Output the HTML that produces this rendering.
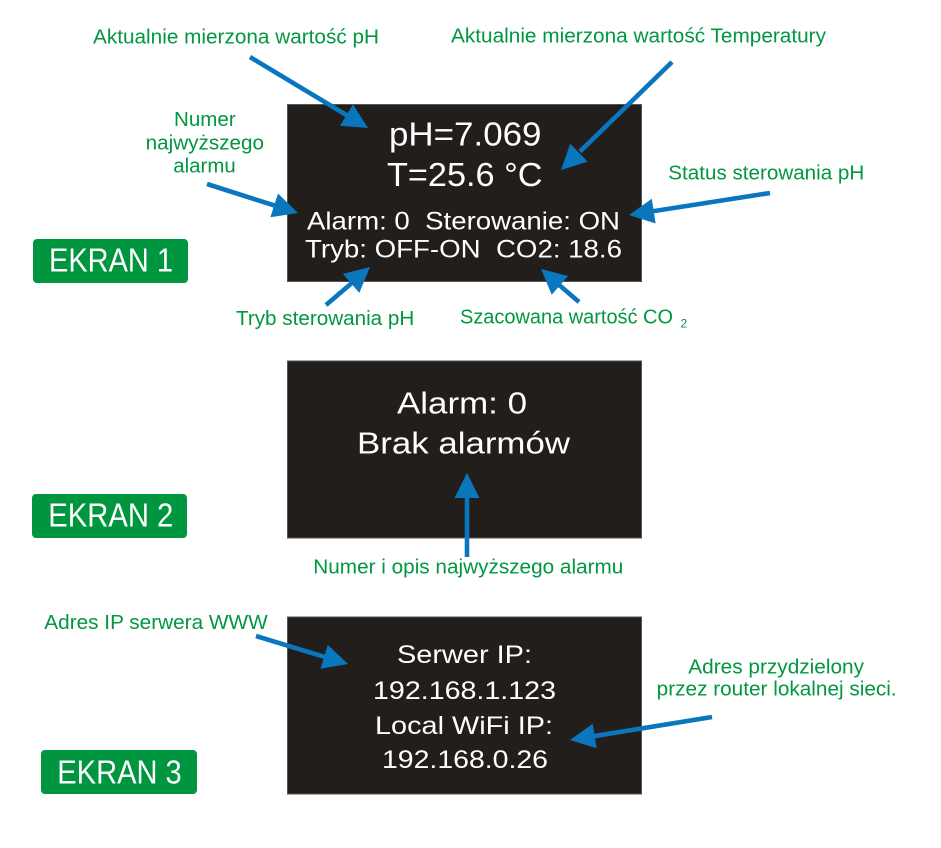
<!DOCTYPE html>
<html>
<head>
<meta charset="utf-8">
<style>
  html, body { margin: 0; padding: 0; background: #ffffff; }
  svg { display: block; }
  .g { font-family: "Liberation Sans", Arial, sans-serif; fill: #00973f; font-size: 20px; }
  .w { font-family: "Liberation Sans", Arial, sans-serif; fill: #ffffff; }
  .b { font-family: "Liberation Sans", Arial, sans-serif; fill: #ffffff; font-size: 33px; }
</style>
</head>
<body>
<svg width="941" height="848" viewBox="0 0 941 848" xmlns="http://www.w3.org/2000/svg">
  <rect x="0" y="0" width="941" height="848" fill="#ffffff"/>

  <!-- Screens -->
  <rect x="287.5" y="104.5" width="354" height="177" fill="#221e1b" stroke="#555" stroke-width="1"/>
  <rect x="287.5" y="361" width="354" height="177" fill="#221e1b" stroke="#555" stroke-width="1"/>
  <rect x="287.5" y="617" width="354" height="177" fill="#221e1b" stroke="#555" stroke-width="1"/>

  <!-- Badges -->
  <rect x="33" y="239" width="155" height="44" rx="4" fill="#00963f"/>
  <text class="b" x="49" y="271.7" textLength="124" lengthAdjust="spacingAndGlyphs">EKRAN 1</text>
  <rect x="32" y="494" width="155" height="44" rx="4" fill="#00963f"/>
  <text class="b" x="48.3" y="526.7" textLength="125" lengthAdjust="spacingAndGlyphs">EKRAN 2</text>
  <rect x="41" y="750" width="156" height="44" rx="4" fill="#00963f"/>
  <text class="b" x="57.3" y="783.3" textLength="124.4" lengthAdjust="spacingAndGlyphs">EKRAN 3</text>

  <!-- Screen 1 text -->
  <text class="w" font-size="33" x="389" y="145.5" textLength="152.5" lengthAdjust="spacingAndGlyphs">pH=7.069</text>
  <text class="w" font-size="33" x="387" y="185.8" textLength="155.5" lengthAdjust="spacingAndGlyphs">T=25.6 °C</text>
  <text class="w" font-size="25" x="307" y="229.5" textLength="313" lengthAdjust="spacingAndGlyphs" xml:space="preserve">Alarm: 0  Sterowanie: ON</text>
  <text class="w" font-size="25" x="305" y="257.6" textLength="317" lengthAdjust="spacingAndGlyphs" xml:space="preserve">Tryb: OFF-ON  CO2: 18.6</text>

  <!-- Screen 2 text -->
  <text class="w" font-size="31" x="397" y="413.3" textLength="130" lengthAdjust="spacingAndGlyphs">Alarm: 0</text>
  <text class="w" font-size="31" x="357" y="453.3" textLength="213" lengthAdjust="spacingAndGlyphs">Brak alarmów</text>

  <!-- Screen 3 text -->
  <text class="w" font-size="25" x="397" y="663" textLength="135" lengthAdjust="spacingAndGlyphs">Serwer IP:</text>
  <text class="w" font-size="25" x="373" y="699" textLength="183" lengthAdjust="spacingAndGlyphs">192.168.1.123</text>
  <text class="w" font-size="25" x="375" y="734" textLength="178" lengthAdjust="spacingAndGlyphs">Local WiFi IP:</text>
  <text class="w" font-size="25" x="382" y="768" textLength="166" lengthAdjust="spacingAndGlyphs">192.168.0.26</text>

  <!-- Green labels -->
  <text class="g" x="93" y="43.3" textLength="286" lengthAdjust="spacingAndGlyphs">Aktualnie mierzona wartość pH</text>
  <text class="g" x="451" y="42.3" textLength="375" lengthAdjust="spacingAndGlyphs">Aktualnie mierzona wartość Temperatury</text>
  <text class="g" x="174" y="126" textLength="61.7" lengthAdjust="spacingAndGlyphs">Numer</text>
  <text class="g" x="145.7" y="149.3" textLength="118.3" lengthAdjust="spacingAndGlyphs">najwyższego</text>
  <text class="g" x="173.3" y="172.5" textLength="62.4" lengthAdjust="spacingAndGlyphs">alarmu</text>
  <text class="g" x="668.3" y="179.3" textLength="196" lengthAdjust="spacingAndGlyphs">Status sterowania pH</text>
  <text class="g" x="236" y="325" textLength="178.3" lengthAdjust="spacingAndGlyphs">Tryb sterowania pH</text>
  <text class="g" x="460" y="323.5" textLength="213" lengthAdjust="spacingAndGlyphs">Szacowana wartość CO</text>
  <text x="680.5" y="327.5" style="font-family:'Liberation Sans',Arial,sans-serif;font-size:12px;fill:#00973f;">2</text>
  <text class="g" x="313.3" y="573.3" textLength="310" lengthAdjust="spacingAndGlyphs">Numer i opis najwyższego alarmu</text>
  <text class="g" x="44.3" y="629" textLength="223.4" lengthAdjust="spacingAndGlyphs">Adres IP serwera WWW</text>
  <text class="g" x="688.3" y="673.3" textLength="175.7" lengthAdjust="spacingAndGlyphs">Adres przydzielony</text>
  <text class="g" x="656.7" y="695.5" textLength="240" lengthAdjust="spacingAndGlyphs">przez router lokalnej sieci.</text>

  <!-- Arrows -->
  <g stroke="#0a76bd" stroke-width="4.6" fill="none" stroke-linecap="butt">
    <line x1="250" y1="57" x2="348" y2="116"/>
    <line x1="672" y1="62" x2="580" y2="151.5"/>
    <line x1="207" y1="184" x2="276" y2="206"/>
    <line x1="326" y1="305" x2="353" y2="282"/>
    <line x1="579" y1="302" x2="558" y2="284"/>
    <line x1="770" y1="193" x2="652" y2="211.4"/>
    <line x1="467" y1="557" x2="467" y2="496"/>
    <line x1="256" y1="636" x2="326" y2="657.3"/>
    <line x1="712" y1="717" x2="593" y2="736.3"/>
  </g>
  <g fill="#0a76bd">
    <polygon points="368,128 340.1,125.8 353,104.4"/>
    <polygon points="561,170 570.2,143.6 587.6,161.6"/>
    <polygon points="298,213 270.4,217.3 278,193.5"/>
    <polygon points="370,267 359.3,292.9 342.9,273.9"/>
    <polygon points="541,269 568.1,276 551.7,294.8"/>
    <polygon points="629,215 651.8,198.7 655.6,223.5"/>
    <polygon points="467,473 454.5,498 479.5,498"/>
    <polygon points="348,664 320.5,668.7 327.7,644.7"/>
    <polygon points="570,740 592.7,723.7 596.7,748.3"/>
  </g>
</svg>
</body>
</html>
